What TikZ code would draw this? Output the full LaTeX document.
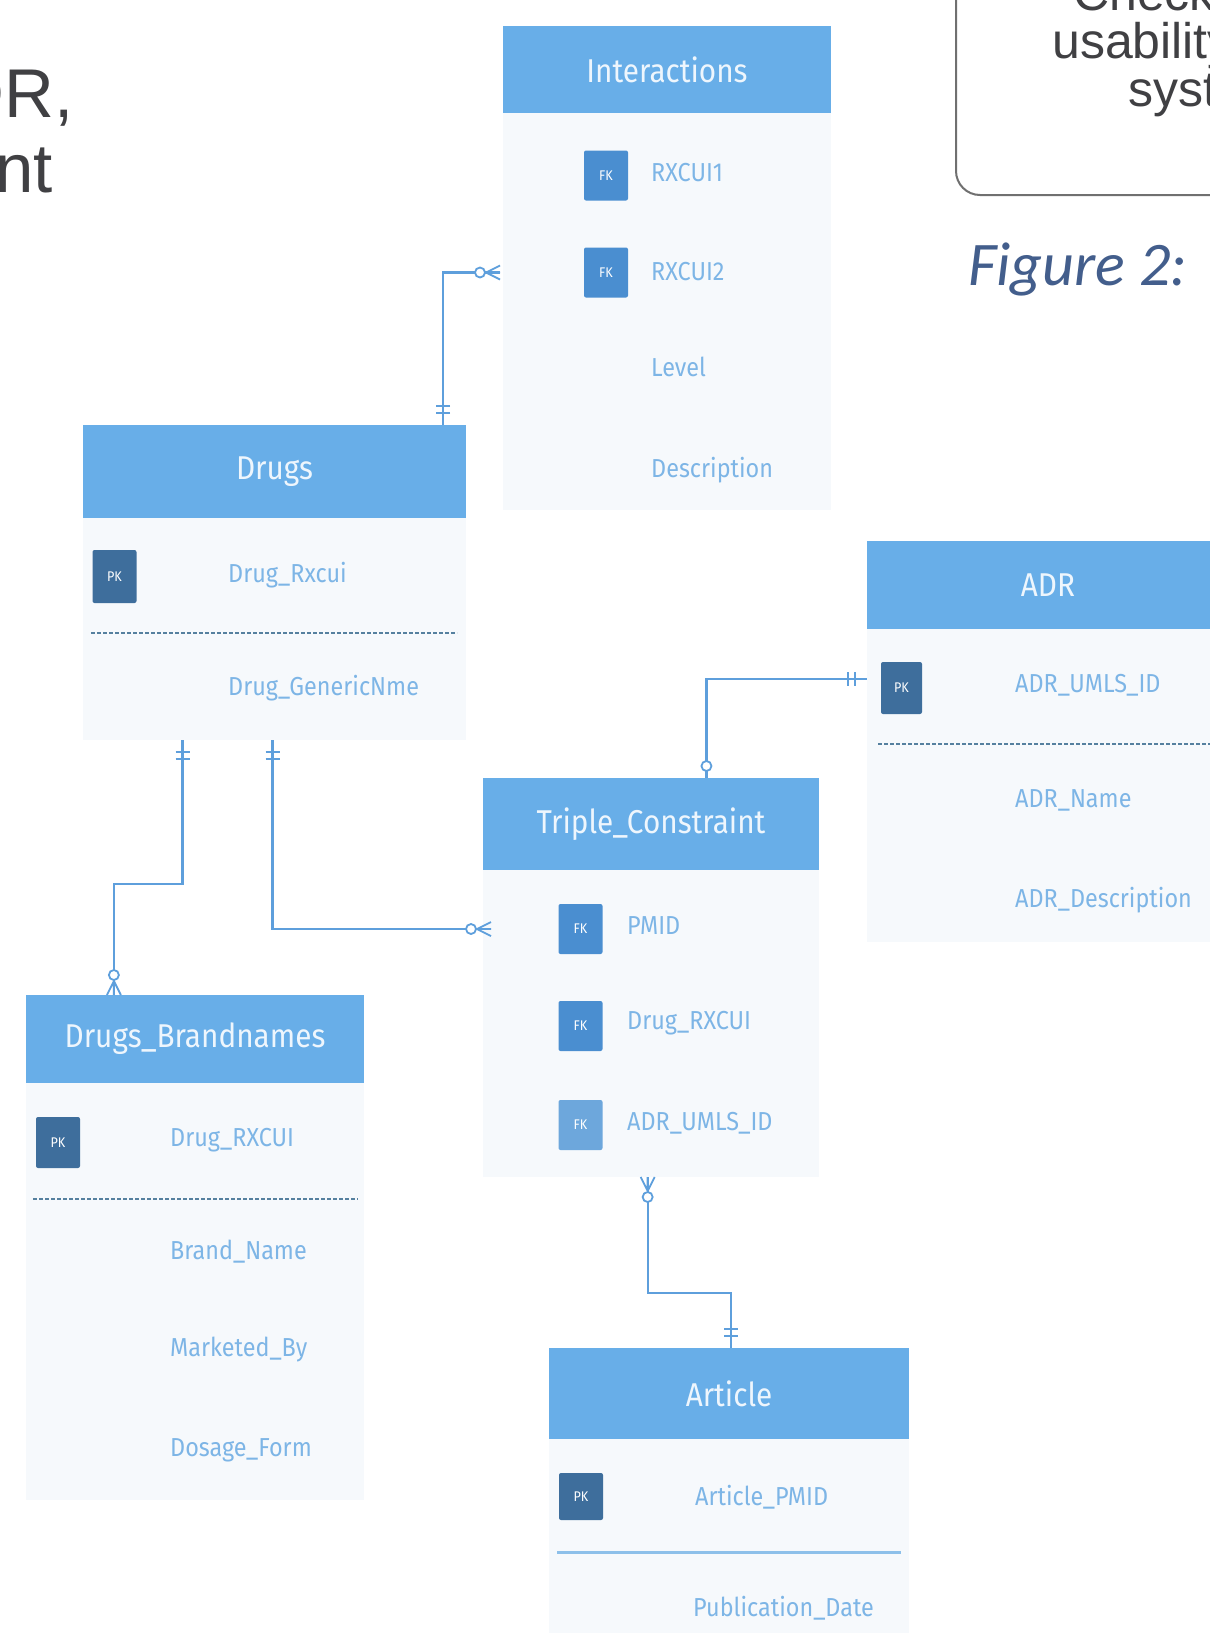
\documentclass[tikz,border=0pt]{standalone}
\usepackage{fontspec}
\setmainfont{Liberation Sans}
\newfontfamily\erfont[FakeStretch=0.9]{Fira Sans}
\newfontfamily\capfont{Carlito}
\usetikzlibrary{calc}
\definecolor{hdr}{HTML}{68AEE8}
\definecolor{hdrtxt}{HTML}{EEF6FD}
\definecolor{bodyc}{HTML}{F6F9FC}
\definecolor{attr}{HTML}{7DB5E6}
\definecolor{fk}{HTML}{4A8ED0}
\definecolor{fklight}{HTML}{6DA7DC}
\definecolor{pk}{HTML}{3E6E9C}
\definecolor{conn}{HTML}{5E9FDC}
\definecolor{dashc}{HTML}{55809F}
\definecolor{solidsep}{HTML}{8DC0EA}
\definecolor{inktxt}{HTML}{404043}
\definecolor{figc}{HTML}{435E8C}
\definecolor{boxline}{HTML}{707070}
\tikzset{
  hdrbox/.style={fill=hdr, draw=none, inner sep=0pt, outer sep=0pt, anchor=north west, text=hdrtxt, font=\erfont\fontsize{33}{36}\selectfont},
  bodybox/.style={fill=bodyc, draw=none, inner sep=0pt, outer sep=0pt, anchor=north west},
  attrtxt/.style={anchor=west, inner sep=0pt, text=attr, font=\erfont\fontsize{26}{28}\selectfont},
  keybox/.style={minimum width=44pt, minimum height=50pt, inner sep=0pt, rounded corners=2pt, text=white, font=\erfont\fontsize{14}{16}\selectfont},
  fkbox/.style={keybox, fill=fk},
  fklbox/.style={keybox, fill=fklight},
  pkbox/.style={keybox, fill=pk},
  connline/.style={draw=conn, line width=2.2pt},
  connmark/.style={draw=conn, line width=1.8pt},
  sepdash/.style={draw=dashc, line width=1.2pt, dash pattern=on 4pt off 2pt},
  sepsolid/.style={draw=solidsep, line width=3pt},
  bigtxt/.style={inner sep=0pt, text=inktxt, font=\fontsize{69}{77}\selectfont},
  boxtxt/.style={inner sep=0pt, text=inktxt, font=\fontsize{50}{50}\selectfont, anchor=base west},
  zmany/.pic={
    \draw[connmark] (-14,0) -- (0,-7) (-14,0) -- (0,7) (-14,0) -- (0,0);
    \draw[connmark, fill=white] (-20,0) circle[radius=5pt];
  },
  dbar/.pic={
    \draw[connmark] (-12,-7) -- (-12,7) (-19,-7) -- (-19,7);
  },
  zonly/.pic={
    \draw[connmark, fill=white] (-12,0) circle[radius=5pt];
  }
}
\begin{document}
\begin{tikzpicture}[x=1pt,y=-1pt]
\useasboundingbox (0,0) rectangle (1210,1633);
\fill[white] (0,0) rectangle (1210,1633);
\begin{scope}
\clip (0,0) rectangle (1210,1633);

% left partial text
\node[bigtxt, anchor=base east] (lt1) at (74,117) {DR,};
\node[bigtxt, anchor=base east] (lt2) at (53,192) {nt};

% top right rounded box
\draw[draw=boxline, line width=2pt, rounded corners=24pt] (956,-80) rectangle (1320,195);
\node[boxtxt] (rt0) at (1073,10) {Checked};
\node[boxtxt] (rt1) at (1052,58) {usability};
\node[boxtxt] (rt2) at (1128,106) {system};
\node[anchor=base west, inner sep=0pt, text=figc, font=\capfont\itshape\fontsize{62}{62}\selectfont] (cap) at (968,285) {Figure 2: };

% ---------- Interactions
\node[bodybox, minimum width=328pt, minimum height=397pt] (intB) at (503,113) {};
\node[hdrbox, minimum width=328pt, minimum height=87pt] (intH) at (503,26) {Interactions};
\node[fkbox] (intK1) at (606,175.5) {FK};
\node[fkbox] (intK2) at (606,272.5) {FK};
\node[attrtxt] (intA1) at (651,173) {RXCUI1};
\node[attrtxt] (intA2) at (651,272) {RXCUI2};
\node[attrtxt] (intA3) at (651,367) {Level};
\node[attrtxt] (intA4) at (651,470) {Description};

% ---------- Drugs
\node[bodybox, minimum width=383pt, minimum height=222pt] (drugsB) at (83,518) {};
\node[hdrbox, minimum width=383pt, minimum height=93pt] (drugsH) at (83,425) {Drugs};
\node[pkbox, minimum height=53pt] (drugsK1) at (114.5,576.5) {PK};
\node[attrtxt] (drugsA1) at (228,575) {Drug\_Rxcui};
\draw[sepdash] (91,633) -- (457,633);
\node[attrtxt] (drugsA2) at (228,688) {Drug\_GenericNme};

% ---------- ADR
\node[bodybox, minimum width=362pt, minimum height=313pt] (adrB) at (867,629) {};
\node[hdrbox, minimum width=362pt, minimum height=88pt] (adrH) at (867,541) {ADR};
\node[pkbox, minimum width=41pt, minimum height=52pt] (adrK1) at (901.5,688) {PK};
\node[attrtxt] (adrA1) at (1015,685) {ADR\_UMLS\_ID};
\draw[sepdash] (878,744) -- (1215,744);
\node[attrtxt] (adrA2) at (1015,800) {ADR\_Name};
\node[attrtxt] (adrA3) at (1015,900) {ADR\_Description};

% ---------- Triple_Constraint
\node[bodybox, minimum width=336pt, minimum height=307pt] (tcB) at (483,870) {};
\node[hdrbox, minimum width=336pt, minimum height=92pt] (tcH) at (483,778) {Triple\_Constraint};
\node[fkbox] (tcK1) at (580.5,929) {FK};
\node[fkbox] (tcK2) at (580.5,1026) {FK};
\node[fklbox] (tcK3) at (580.5,1125) {FK};
\node[attrtxt] (tcA1) at (627,926) {PMID};
\node[attrtxt] (tcA2) at (627,1023) {Drug\_RXCUI};
\node[attrtxt] (tcA3) at (627,1123) {ADR\_UMLS\_ID};

% ---------- Drugs_Brandnames
\node[bodybox, minimum width=338pt, minimum height=417pt] (bnB) at (26,1083) {};
\node[hdrbox, minimum width=338pt, minimum height=88pt] (bnH) at (26,995) {Drugs\_Brandnames};
\node[pkbox, minimum height=51pt] (bnK1) at (58,1142.5) {PK};
\node[attrtxt] (bnA1) at (170,1140) {Drug\_RXCUI};
\draw[sepdash] (33,1199) -- (358,1199);
\node[attrtxt] (bnA2) at (170,1252) {Brand\_Name};
\node[attrtxt] (bnA3) at (170,1350) {Marketed\_By};
\node[attrtxt] (bnA4) at (170,1450) {Dosage\_Form};

% ---------- Article
\node[bodybox, minimum width=360pt, minimum height=210pt] (artB) at (549,1439) {};
\node[hdrbox, minimum width=360pt, minimum height=91pt] (artH) at (549,1348) {Article};
\node[pkbox, minimum height=47pt] (artK1) at (581,1496.5) {PK};
\node[attrtxt] (artA1) at (695,1497) {Article\_PMID};
\draw[sepsolid] (557,1552) -- (901,1552);
\node[attrtxt] (artA2) at (693,1608) {Publication\_Date};

% ---------- connectors
% Drugs -- Interactions
\coordinate (s1) at ($(drugsH.north west)!0.94!(drugsH.north east)$);
\coordinate (e1) at ($(intB.west |- intK2.center)+(-3,0)$);
\draw[connline] (s1) |- (e1);
\pic[rotate=-90] at (s1) {dbar};
\pic at (e1) {zmany};

% Drugs -- Drugs_Brandnames
\coordinate (s2) at ($(drugsB.south west)!0.26!(drugsB.south east)$);
\coordinate (e2) at ($(bnH.north west)!0.26!(bnH.north east)$);
\draw[connline] (s2) -- ++(0,144) -| (e2);
\pic[rotate=90] at (s2) {dbar};
\pic[rotate=-90] at (e2) {zmany};

% Drugs -- Triple_Constraint
\coordinate (s3) at ($(drugsB.south west)!0.495!(drugsB.south east)$);
\coordinate (e3) at ($(tcB.west |- tcK1.center)+(8,0)$);
\draw[connline] (s3) |- (e3);
\pic[rotate=90] at (s3) {dbar};
\pic at (e3) {zmany};

% Triple_Constraint -- ADR
\coordinate (s4) at ($(tcH.north west)!0.665!(tcH.north east)$);
\coordinate (e4) at ($(adrK1.west)+(-14,-9)$);
\draw[connline] (s4) |- (e4);
\pic[rotate=-90] at (s4) {zonly};
\pic at (e4) {dbar};

% Triple_Constraint -- Article
\coordinate (s5) at ($(tcB.south west)!0.49!(tcB.south east)$);
\coordinate (e5) at ($(artH.north west)!0.505!(artH.north east)$);
\draw[connline] (s5) -- ++(0,116) -| (e5);
\pic[rotate=90] at (s5) {zmany};
\pic[rotate=-90] at (e5) {dbar};
\end{scope}
\end{tikzpicture}
\end{document}
